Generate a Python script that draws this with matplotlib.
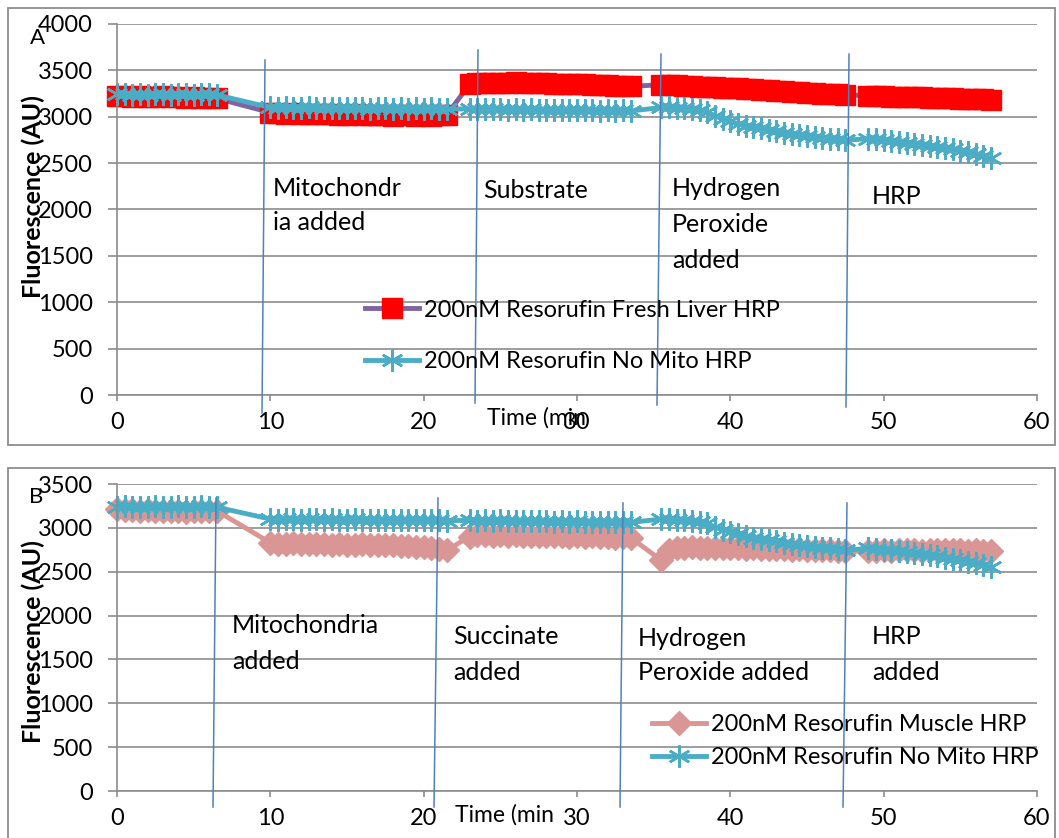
import matplotlib.pyplot as plt
from matplotlib.lines import Line2D
from matplotlib.patches import Rectangle

W, H = 1059, 838

# sampling times (min), one list per recorded block
t_seg = [
    [0, 0.5, 1, 1.5, 2, 2.5, 3, 3.5, 4, 4.5, 5, 5.5, 6, 6.5],
    [10, 10.5, 11, 11.5, 12, 12.5, 13, 13.5, 14, 14.5, 15, 15.5, 16, 16.5,
     17, 17.5, 18, 18.5, 19, 19.5, 20, 20.5, 21, 21.5],
    [23, 23.5, 24, 24.5, 25, 25.5, 26, 26.5, 27, 27.5, 28, 28.5, 29, 29.5,
     30, 30.5, 31, 31.5, 32, 32.5, 33, 33.5],
    [35.5, 36, 36.5, 37, 37.5, 38, 38.5, 39, 39.5, 40, 40.5, 41, 41.5, 42,
     42.5, 43, 43.5, 44, 44.5, 45, 45.5, 46, 46.5, 47, 47.5],
    [49, 49.5, 50, 50.5, 51, 51.5, 52, 52.5, 53, 53.5, 54, 54.5, 55, 55.5,
     56, 56.5, 57],
]

liver = [
    [3225, 3220, 3215, 3222, 3218, 3212, 3220, 3215, 3210, 3205, 3212, 3200, 3205, 3198],
    [3045, 3040, 3035, 3042, 3030, 3028, 3035, 3025, 3030, 3022, 3020, 3026, 3018, 3022,
     3015, 3020, 3012, 3018, 3015, 3010, 3018, 3012, 3015, 3020],
    [3350, 3360, 3365, 3362, 3368, 3365, 3370, 3366, 3362, 3365, 3360, 3358, 3355, 3352,
     3350, 3348, 3345, 3342, 3340, 3335, 3330, 3328],
    [3345, 3342, 3338, 3335, 3330, 3326, 3322, 3318, 3314, 3310, 3305, 3300, 3296, 3292,
     3288, 3282, 3276, 3270, 3265, 3260, 3255, 3250, 3246, 3242, 3238],
    [3225, 3222, 3220, 3218, 3215, 3212, 3210, 3208, 3205, 3202, 3200, 3198, 3195, 3192,
     3190, 3188, 3185],
]

nomito = [
    [3240, 3245, 3238, 3242, 3236, 3244, 3240, 3235, 3245, 3242, 3238, 3248, 3240, 3236],
    [3100, 3095, 3102, 3098, 3094, 3100, 3096, 3092, 3098, 3094, 3090, 3096, 3092, 3088,
     3094, 3090, 3086, 3092, 3088, 3090, 3085, 3090, 3086, 3082],
    [3085, 3082, 3088, 3080, 3084, 3078, 3082, 3076, 3080, 3074, 3078, 3072, 3076, 3070,
     3074, 3068, 3072, 3066, 3070, 3064, 3068, 3062],
    [3100, 3100, 3095, 3090, 3080, 3070, 3050, 3010, 2980, 2950, 2925, 2905, 2890, 2875,
     2860, 2845, 2830, 2815, 2805, 2795, 2785, 2775, 2765, 2755, 2745],
    [2765, 2758, 2750, 2742, 2732, 2722, 2710, 2700, 2688, 2675, 2662, 2648, 2635, 2615,
     2598, 2575, 2550],
]

muscle = [
    [3215, 3205, 3198, 3192, 3200, 3190, 3195, 3188, 3192, 3185, 3195, 3190, 3188, 3195],
    [2830, 2820, 2815, 2825, 2818, 2812, 2820, 2815, 2808, 2815, 2810, 2805, 2812, 2806,
     2800, 2808, 2800, 2795, 2790, 2785, 2780, 2770, 2760, 2745],
    [2900, 2915, 2920, 2912, 2918, 2910, 2915, 2908, 2912, 2905, 2910, 2902, 2906, 2900,
     2904, 2898, 2902, 2895, 2898, 2890, 2894, 2888],
    [2630, 2745, 2770, 2770, 2778, 2772, 2768, 2775, 2770, 2765, 2770, 2762, 2766, 2758,
     2762, 2755, 2758, 2750, 2754, 2746, 2750, 2742, 2745, 2738, 2735],
    [2735, 2740, 2745, 2738, 2750, 2742, 2748, 2740, 2752, 2745, 2750, 2742, 2748, 2740,
     2745, 2738, 2735],
]

time = sum(t_seg, [])
liver = sum(liver, [])
nomito = sum(nomito, [])
muscle = sum(muscle, [])

GRID = '#8c8c8c'
ANNO = '#4F81BD'
STAR = (6, 2, 0)

plt.rcParams['font.family'] = ['Lato', 'DejaVu Sans']


def fx(x):
    return x / W


def fy(y):
    return 1 - y / H


def setup(ax, ymax):
    ax.set_xlim(0, 60)
    ax.set_ylim(0, ymax)
    ax.set_xticks(range(0, 61, 10))
    ax.set_yticks(range(0, ymax + 1, 500))
    ax.grid(axis='y', color=GRID, lw=1.2)
    ax.set_axisbelow(True)
    for s in ['top', 'right']:
        ax.spines[s].set_visible(False)
    for s in ['left', 'bottom']:
        ax.spines[s].set_color(GRID)
        ax.spines[s].set_linewidth(1.2)
    ax.tick_params(axis='y', length=6.5, width=1.2, color=GRID, pad=11, labelsize=17)
    ax.tick_params(axis='x', length=4.5, width=1.2, color=GRID, pad=8, labelsize=17)
    ax.patch.set_alpha(0)


fig = plt.figure(figsize=(W / 100, H / 100), dpi=100)

# panel frames
for top, bot in [(8, 445), (468, 850)]:
    fig.add_artist(Rectangle((fx(8), fy(bot)), fx(1055) - fx(8), fy(top) - fy(bot),
                             transform=fig.transFigure, fill=False, ec=GRID, lw=1.3))

# ---- panel A
axA = fig.add_axes([fx(117), fy(395), fx(1037) - fx(117), fy(24) - fy(395)])
setup(axA, 4000)
la, = axA.plot(time, liver, color='#8064A2', lw=3.5, marker='s', ms=14,
               mfc='#FF0000', mec='#FF0000', clip_on=False)
lb, = axA.plot(time, nomito, color='#4BACC6', lw=3.5, marker=STAR, ms=16,
               mec='#4BACC6', mew=1.8, clip_on=False)
fig.legend([la, lb], ['200nM Resorufin Fresh Liver HRP', '200nM Resorufin No Mito HRP'],
           loc='center left', bbox_to_anchor=(fx(365), fy(336)), frameon=False,
           fontsize=17, handlelength=2.3, handletextpad=0.2, labelspacing=1.3,
           borderpad=0, borderaxespad=0)

# ---- panel B
axB = fig.add_axes([fx(117), fy(791), fx(1037) - fx(117), fy(484) - fy(791)])
setup(axB, 3500)
lc, = axB.plot(time, muscle, color='#D99694', lw=3.5, marker='D', ms=12,
               mfc='#D99694', mec='#D99694', clip_on=False)
ld, = axB.plot(time, nomito, color='#4BACC6', lw=3.5, marker=STAR, ms=16,
               mec='#4BACC6', mew=1.8, clip_on=False)
fig.legend([lc, ld], ['200nM Resorufin Muscle HRP', '200nM Resorufin No Mito HRP'],
           loc='center left', bbox_to_anchor=(fx(652), fy(741)), frameon=False,
           fontsize=17, handlelength=2.3, handletextpad=0.2, labelspacing=0.5,
           borderpad=0, borderaxespad=0)

# event markers drawn on the sheet
event_lines = [
    ((265, 60), (262, 413)), ((478, 50), (475, 403)),
    ((661, 54), (657, 405)), ((849, 54), (846, 407)),
    ((216, 498), (213, 807)), ((438, 498), (434, 807)),
    ((623, 503), (620, 807)), ((847, 503), (843, 807)),
]
for (x0, y0), (x1, y1) in event_lines:
    fig.add_artist(Line2D([fx(x0), fx(x1)], [fy(y0), fy(y1)],
                          transform=fig.transFigure, color=ANNO, lw=1.1))

event_text = [
    (273, 188, 'Mitochondr'), (273, 222, 'ia added'),
    (483, 190, 'Substrate'),
    (672, 188, 'Hydrogen'), (672, 224, 'Peroxide'), (672, 260, 'added'),
    (872, 197, 'HRP'),
    (232, 625, 'Mitochondria'), (232, 661, 'added'),
    (453, 637, 'Succinate'), (453, 672, 'added'),
    (638, 638, 'Hydrogen'), (638, 673, 'Peroxide added'),
    (872, 637, 'HRP'), (872, 672, 'added'),
]
for x, y, s in event_text:
    fig.text(fx(x), fy(y), s, ha='left', va='center', fontsize=18)

# axis titles and panel letters
for yc in [197, 642]:
    fig.text(fx(33), fy(yc), 'Fluorescence (AU)', rotation=90, ha='center', va='center',
             fontsize=18, fontweight='bold')
fig.text(fx(487), fy(418), 'Time (min', ha='left', va='center', fontsize=16.5, zorder=-1)
fig.text(fx(455), fy(815), 'Time (min', ha='left', va='center', fontsize=16.5, zorder=-1)
fig.text(fx(37), fy(38), 'A', ha='center', va='center', fontsize=16)
fig.text(fx(36), fy(497), 'B', ha='center', va='center', fontsize=16)

fig.savefig('out.png', dpi=100, facecolor='white')
